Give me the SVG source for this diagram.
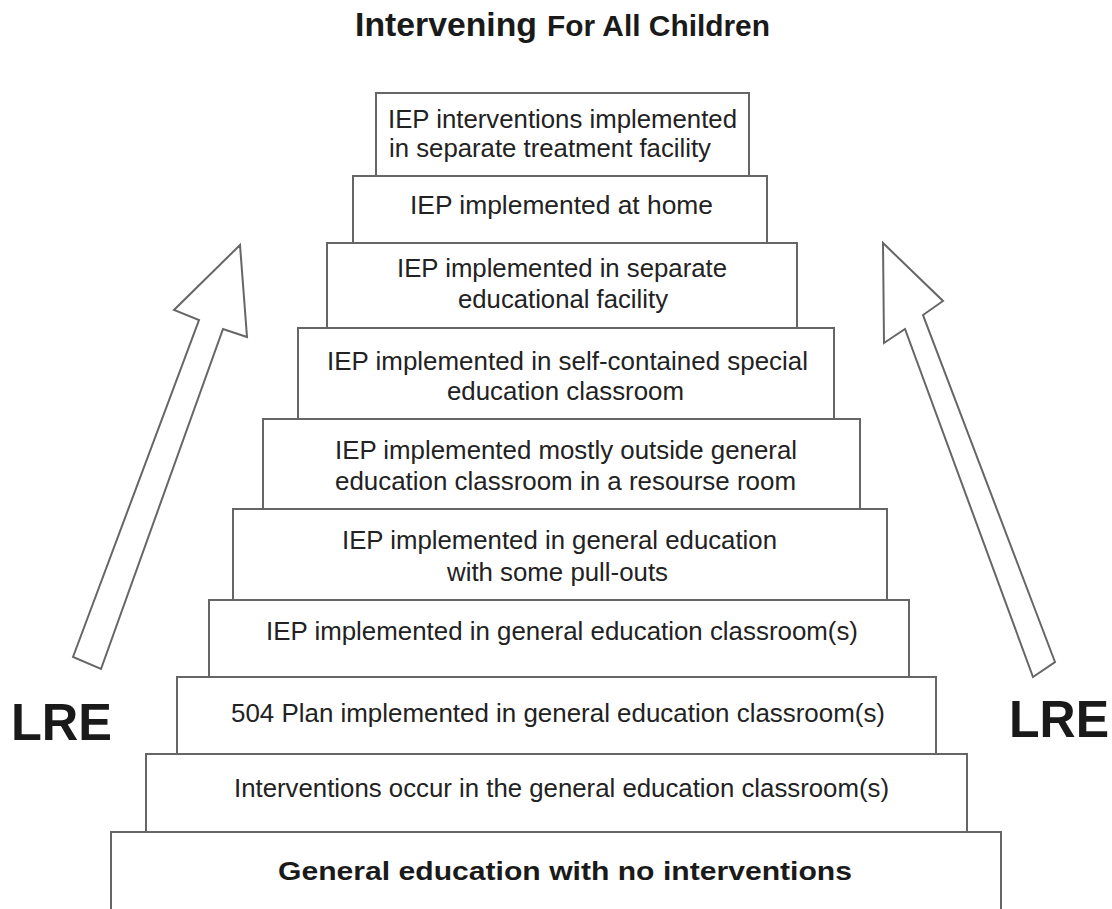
<svg xmlns="http://www.w3.org/2000/svg" width="1112" height="909" viewBox="0 0 1112 909">
<style>
.box{fill:#fff;stroke:#666;stroke-width:2}
.t{font-family:"Liberation Sans",Arial,sans-serif;font-size:26px;fill:#222}
.b{font-family:"Liberation Sans",Arial,sans-serif;font-weight:bold;fill:#1a1a1a}
.arrow{fill:#fff;stroke:#666;stroke-width:2;stroke-linejoin:miter}
</style>
<rect width="1112" height="909" fill="#fff"/>
<g id="title">
<text class="b" x="355" y="36" font-size="33" textLength="182" lengthAdjust="spacingAndGlyphs">Intervening</text>
<text class="b" x="547" y="36" font-size="29" textLength="223" lengthAdjust="spacingAndGlyphs">For All Children</text>
</g>
<g id="arrows">
<polygon class="arrow" points="73,657 199,320 174,310 240,245 247,337 223,329 101,669"/>
<polygon class="arrow" points="1033,677 905,329 884,343 883,243 943,301 923,315 1055,662"/>
</g>
<g id="lre-left"><text class="b" x="11" y="740" font-size="51" textLength="101" lengthAdjust="spacingAndGlyphs">LRE</text></g>
<g id="lre-right"><text class="b" x="1009" y="737" font-size="51" textLength="100" lengthAdjust="spacingAndGlyphs">LRE</text></g>
<g id="box10">
<rect class="box" x="111" y="832" width="890" height="90"/>
<text class="b" x="278" y="880" font-size="26" textLength="574" lengthAdjust="spacingAndGlyphs">General education with no interventions</text>
</g>
<g id="box9">
<rect class="box" x="146" y="754" width="821" height="78"/>
<text class="t" x="234" y="797" textLength="655" lengthAdjust="spacingAndGlyphs">Interventions occur in the general education classroom(s)</text>
</g>
<g id="box8">
<rect class="box" x="177" y="677" width="759" height="77"/>
<text class="t" x="231" y="722" textLength="654" lengthAdjust="spacingAndGlyphs">504 Plan implemented in general education classroom(s)</text>
</g>
<g id="box7">
<rect class="box" x="209" y="600" width="700" height="77"/>
<text class="t" x="266" y="640" textLength="592" lengthAdjust="spacingAndGlyphs">IEP implemented in general education classroom(s)</text>
</g>
<g id="box6">
<rect class="box" x="233" y="509" width="654" height="91"/>
<text class="t" x="342" y="549" textLength="435" lengthAdjust="spacingAndGlyphs">IEP implemented in general education</text>
<text class="t" x="447" y="581" textLength="221" lengthAdjust="spacingAndGlyphs">with some pull-outs</text>
</g>
<g id="box5">
<rect class="box" x="263" y="419" width="597" height="90"/>
<text class="t" x="335" y="459" textLength="462" lengthAdjust="spacingAndGlyphs">IEP implemented mostly outside general</text>
<text class="t" x="335" y="490" textLength="461" lengthAdjust="spacingAndGlyphs">education classroom in a resourse room</text>
</g>
<g id="box4">
<rect class="box" x="298" y="328" width="536" height="91"/>
<text class="t" x="327" y="370" textLength="481" lengthAdjust="spacingAndGlyphs">IEP implemented in self-contained special</text>
<text class="t" x="447" y="400" textLength="237" lengthAdjust="spacingAndGlyphs">education classroom</text>
</g>
<g id="box3">
<rect class="box" x="327" y="243" width="470" height="85"/>
<text class="t" x="397" y="277" textLength="330" lengthAdjust="spacingAndGlyphs">IEP implemented in separate</text>
<text class="t" x="458" y="308" textLength="210" lengthAdjust="spacingAndGlyphs">educational facility</text>
</g>
<g id="box2">
<rect class="box" x="353" y="176" width="414" height="67"/>
<text class="t" x="410" y="214" textLength="303" lengthAdjust="spacingAndGlyphs">IEP implemented at home</text>
</g>
<g id="box1">
<rect class="box" x="376" y="93" width="373" height="83"/>
<text class="t" x="388" y="128" textLength="349" lengthAdjust="spacingAndGlyphs">IEP interventions implemented</text>
<text class="t" x="389" y="157" textLength="322" lengthAdjust="spacingAndGlyphs">in separate treatment facility</text>
</g>
</svg>
